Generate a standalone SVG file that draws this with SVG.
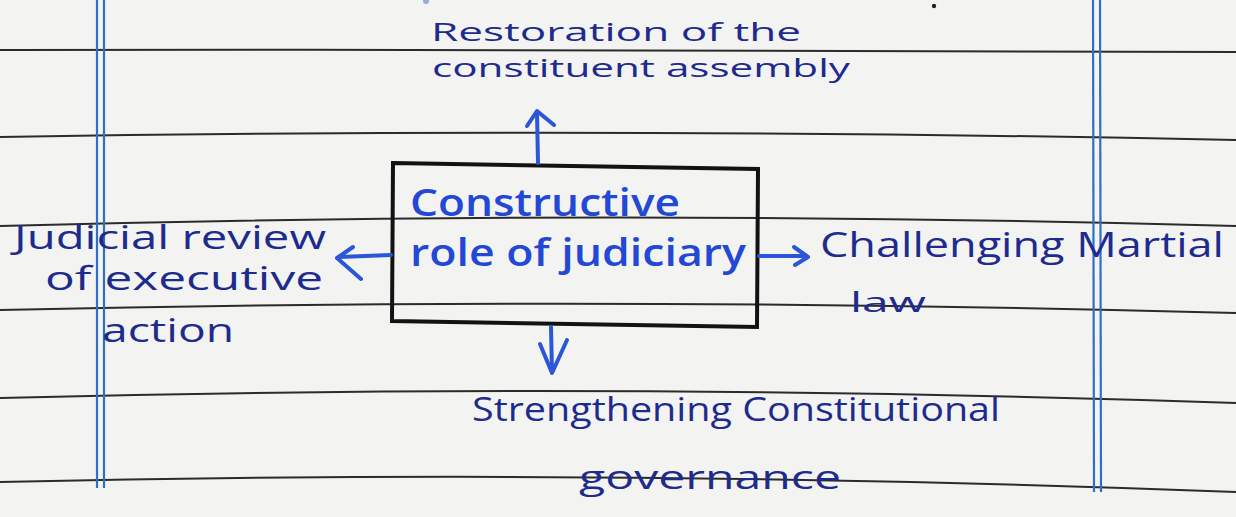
<svg xmlns="http://www.w3.org/2000/svg" width="1236" height="517" viewBox="0 0 1236 517">
  <style>
    .rule { fill: none; stroke: #2b2b2b; stroke-width: 2; }
    .margin { stroke: #2f6fc4; stroke-width: 2.2; }
    .ink { fill: #1e2b8e; font-family: "Open Sans", "Liberation Sans", sans-serif; font-weight: 400; }
    .bright { fill: #2348d6; font-family: "Open Sans", "Liberation Sans", sans-serif; font-weight: 600; }
    .arrow { fill: none; stroke: #2b56d8; stroke-width: 4; stroke-linecap: round; stroke-linejoin: round; }
  </style>

  <!-- paper -->
  <rect x="0" y="0" width="1236" height="517" fill="#f3f3f1"/>

  <!-- ruled lines -->
  <g id="ruling">
    <path class="rule" d="M0,50 Q618,49 1236,52"/>
    <path class="rule" d="M0,137 Q618,127 1236,140"/>
    <path class="rule" d="M0,226 Q618,209 1236,226"/>
    <path class="rule" d="M0,310 Q618,296 1236,313"/>
    <path class="rule" d="M0,398 Q618,382 1236,403"/>
    <path class="rule" d="M0,482 Q618,468 1236,492"/>
  </g>

  <!-- margin double lines -->
  <g id="margins">
    <line class="margin" x1="97" y1="0" x2="97" y2="488"/>
    <line class="margin" x1="104" y1="0" x2="104" y2="488"/>
    <line class="margin" x1="1093" y1="0" x2="1094" y2="492"/>
    <line class="margin" x1="1100" y1="0" x2="1101" y2="492"/>
  </g>

  <!-- specks -->
  <circle cx="934" cy="6" r="2.2" fill="#222"/>
  <circle cx="426" cy="1" r="3" fill="#5a78d8" opacity="0.6"/>

  <!-- centre node -->
  <g id="node-centre">
    <polygon points="393,163 758,169 757,327 392,321" fill="none" stroke="#121212" stroke-width="4"/>
    <text class="bright" x="410" y="216" font-size="37" textLength="270" lengthAdjust="spacingAndGlyphs">Constructive</text>
    <text class="bright" x="410" y="266" font-size="37" textLength="336" lengthAdjust="spacingAndGlyphs">role of judiciary</text>
  </g>

  <!-- top node -->
  <g id="node-top">
    <text class="ink" x="431" y="41" font-size="26" textLength="370" lengthAdjust="spacingAndGlyphs">Restoration of the</text>
    <text class="ink" x="432" y="77" font-size="26" textLength="418" lengthAdjust="spacingAndGlyphs">constituent assembly</text>
  </g>

  <!-- left node -->
  <g id="node-left">
    <text class="ink" x="14" y="249" font-size="32" textLength="312" lengthAdjust="spacingAndGlyphs">Judicial review</text>
    <text class="ink" x="45" y="290" font-size="32" textLength="278" lengthAdjust="spacingAndGlyphs">of executive</text>
    <text class="ink" x="102" y="342" font-size="32" textLength="132" lengthAdjust="spacingAndGlyphs">action</text>
  </g>

  <!-- right node -->
  <g id="node-right">
    <text class="ink" x="820" y="257" font-size="35" textLength="404" lengthAdjust="spacingAndGlyphs">Challenging Martial</text>
    <text class="ink" x="850" y="312" font-size="27" textLength="76" lengthAdjust="spacingAndGlyphs">law</text>
  </g>

  <!-- bottom node -->
  <g id="node-bottom">
    <text class="ink" x="472" y="421" font-size="33" textLength="528" lengthAdjust="spacingAndGlyphs">Strengthening Constitutional</text>
    <text class="ink" x="579" y="489" font-size="33" textLength="262" lengthAdjust="spacingAndGlyphs">governance</text>
  </g>

  <!-- connectors -->
  <g id="connectors">
    <!-- up -->
    <path class="arrow" d="M538,163 L537,112"/>
    <path class="arrow" d="M527,126 L537,111 L554,125"/>
    <!-- down -->
    <path class="arrow" d="M551,327 L552,372"/>
    <path class="arrow" d="M540,344 L552,373 L567,340"/>
    <!-- left -->
    <path class="arrow" d="M391,255 L339,257"/>
    <path class="arrow" d="M353,247 L337,258 L361,279"/>
    <!-- right -->
    <path class="arrow" d="M759,256 L806,256"/>
    <path class="arrow" d="M794,247 L808,257 L795,265"/>
  </g>
</svg>
